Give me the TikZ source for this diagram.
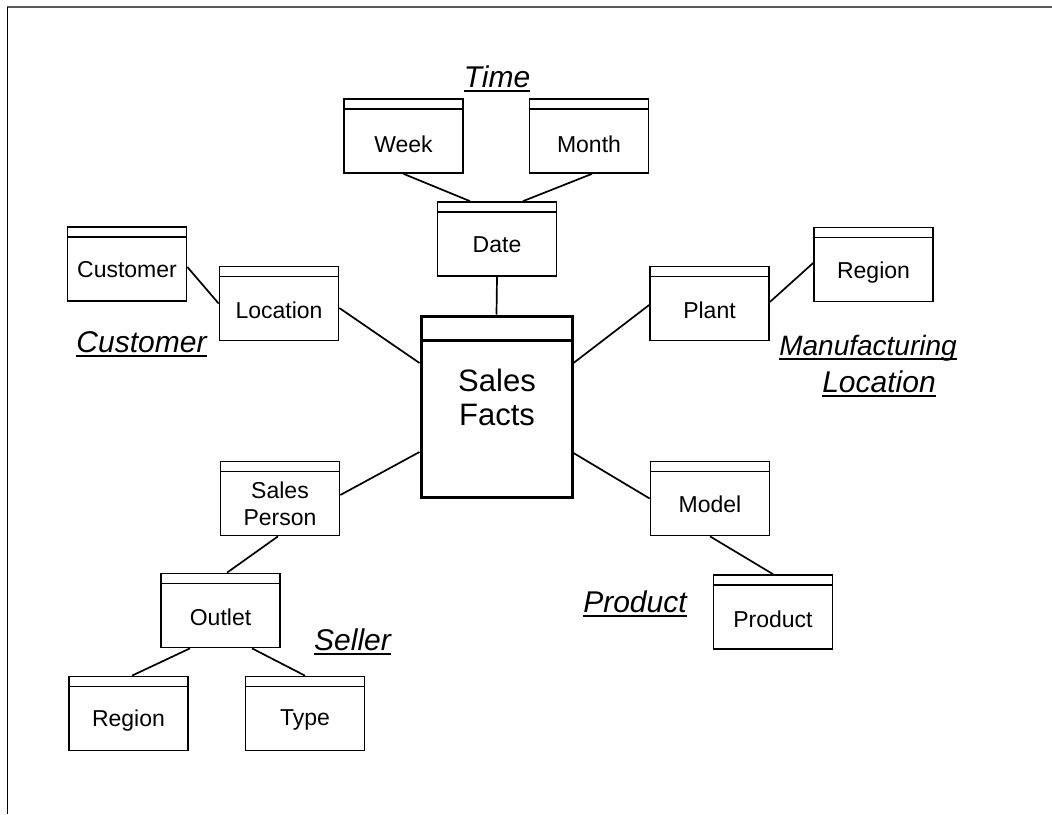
\documentclass[tikz,border=0pt]{standalone}
\usepackage{fontspec}
\setmainfont{Liberation Sans}
\usetikzlibrary{calc}

% entity box: empty box node plus a separate text node on its body
\newcommand\entitybox[5]{% name, x, y, text, baseline offset
  \node[entity] (#1) at (#2,#3) {};
  \node[boxtext, anchor=base] (#1-t) at ($(#1.center)+(0,#5)$) {#4};
}

\begin{document}
\begin{tikzpicture}[x=1pt,y=-1pt,
  every node/.style={inner sep=0pt},
  header/.style={path picture={%
      \draw[line width=#1] ([yshift=-10pt]path picture bounding box.north west)
        -- ([yshift=-10pt]path picture bounding box.north east);}},
  entity/.style={draw, line width=1.7pt, rectangle,
      minimum width=119pt, minimum height=74pt, header=1.7pt},
  boxtext/.style={font=\fontsize{23}{27}\selectfont, align=center},
  factbox/.style={draw, line width=3pt, rectangle,
      minimum width=151pt, minimum height=181pt,
      path picture={%
        \draw[line width=3pt] ([yshift=-24pt]path picture bounding box.north west)
          -- ([yshift=-24pt]path picture bounding box.north east);}},
  facttext/.style={font=\fontsize{31}{34}\selectfont, align=center},
  title/.style={font=\fontsize{30}{36}\selectfont\itshape, anchor=base},
  uline/.style={line width=1.8pt},
  link/.style={line width=1.7pt},
  frame/.style={line width=1.6pt}
]
\useasboundingbox (0,0) rectangle (1052,814);

% page frame (top and left edges)
\draw[frame, black!65] (7,7) -- (1052,7);
\draw[frame] (7.5,7) -- (7.5,814);

% central fact table
\node[factbox] (sales) at (496.5,406.5) {};
\node[facttext] (sales-t) at (497,397) {Sales\\Facts};

% dimension tables
\entitybox{week}{403.5}{136}{Week}{16.5}
\entitybox{month}{589}{136}{Month}{16.5}
\entitybox{date}{497}{239}{Date}{13.5}
\entitybox{customer}{127}{264}{Customer}{13.5}
\entitybox{location}{279}{303.5}{Location}{15}
\entitybox{plant}{709.5}{303.5}{Plant}{14.5}
\entitybox{regionR}{873.5}{264.5}{Region}{13.5}
\node[entity] (salesperson) at (280,498.5) {};
\node[boxtext] (salesperson-t) at (280,504) {Sales\\Person};
\entitybox{model}{710}{498.5}{Model}{13.5}
\entitybox{outlet}{220.5}{610.5}{Outlet}{14.5}
\entitybox{regionL}{128.5}{713.5}{Region}{12.5}
\entitybox{type}{305}{713.5}{Type}{12}
\entitybox{product}{773}{612}{Product}{15}

% connectors
\draw[link] (week.south) -- ([xshift=-27pt]date.north);
\draw[link] ([xshift=3pt]month.south) -- ([xshift=26pt]date.north);
\draw[link] (date.south) -- (sales.north);
\draw[link] ([yshift=-3pt]customer.east) -- (location.west);
\draw[link] ([yshift=-4.5pt]location.east) -- ([yshift=43.5pt]sales.west);
\draw[link] ([yshift=-45.5pt]sales.west) -- ([yshift=3.5pt]salesperson.east);
\draw[link] ([xshift=-2pt]salesperson.south) -- ([xshift=6.5pt]outlet.north);
\draw[link] ([xshift=-30.5pt]outlet.south) -- ([xshift=3.5pt]regionL.north);
\draw[link] ([xshift=31.5pt]outlet.south) -- (type.north);
\draw[link] ([yshift=43.5pt]sales.east) -- ([yshift=-1.5pt]plant.west);
\draw[link] ([yshift=1.5pt]plant.east) -- ([yshift=1.5pt]regionR.west);
\draw[link] ([yshift=-46.5pt]sales.east) -- (model.west);
\draw[link] (model.south) -- (product.north);

% dimension titles
\node[title] (tTime) at (497,87) {Time};
\node[title] (tCustomer) at (141.5,352) {Customer};
\node[title, font=\fontsize{28}{34}\selectfont\itshape] (tManuf) at (868,355) {Manufacturing};
\node[title] (tLoc) at (879,392) {Location};
\node[title] (tSeller) at (352.5,650) {Seller};
\node[title] (tProduct) at (635,612) {Product};
\foreach \t in {tTime,tCustomer,tManuf,tLoc,tSeller,tProduct}
  \draw[uline] ([yshift=-4pt]\t.base west) -- ([yshift=-4pt]\t.base east);
\end{tikzpicture}
\end{document}
